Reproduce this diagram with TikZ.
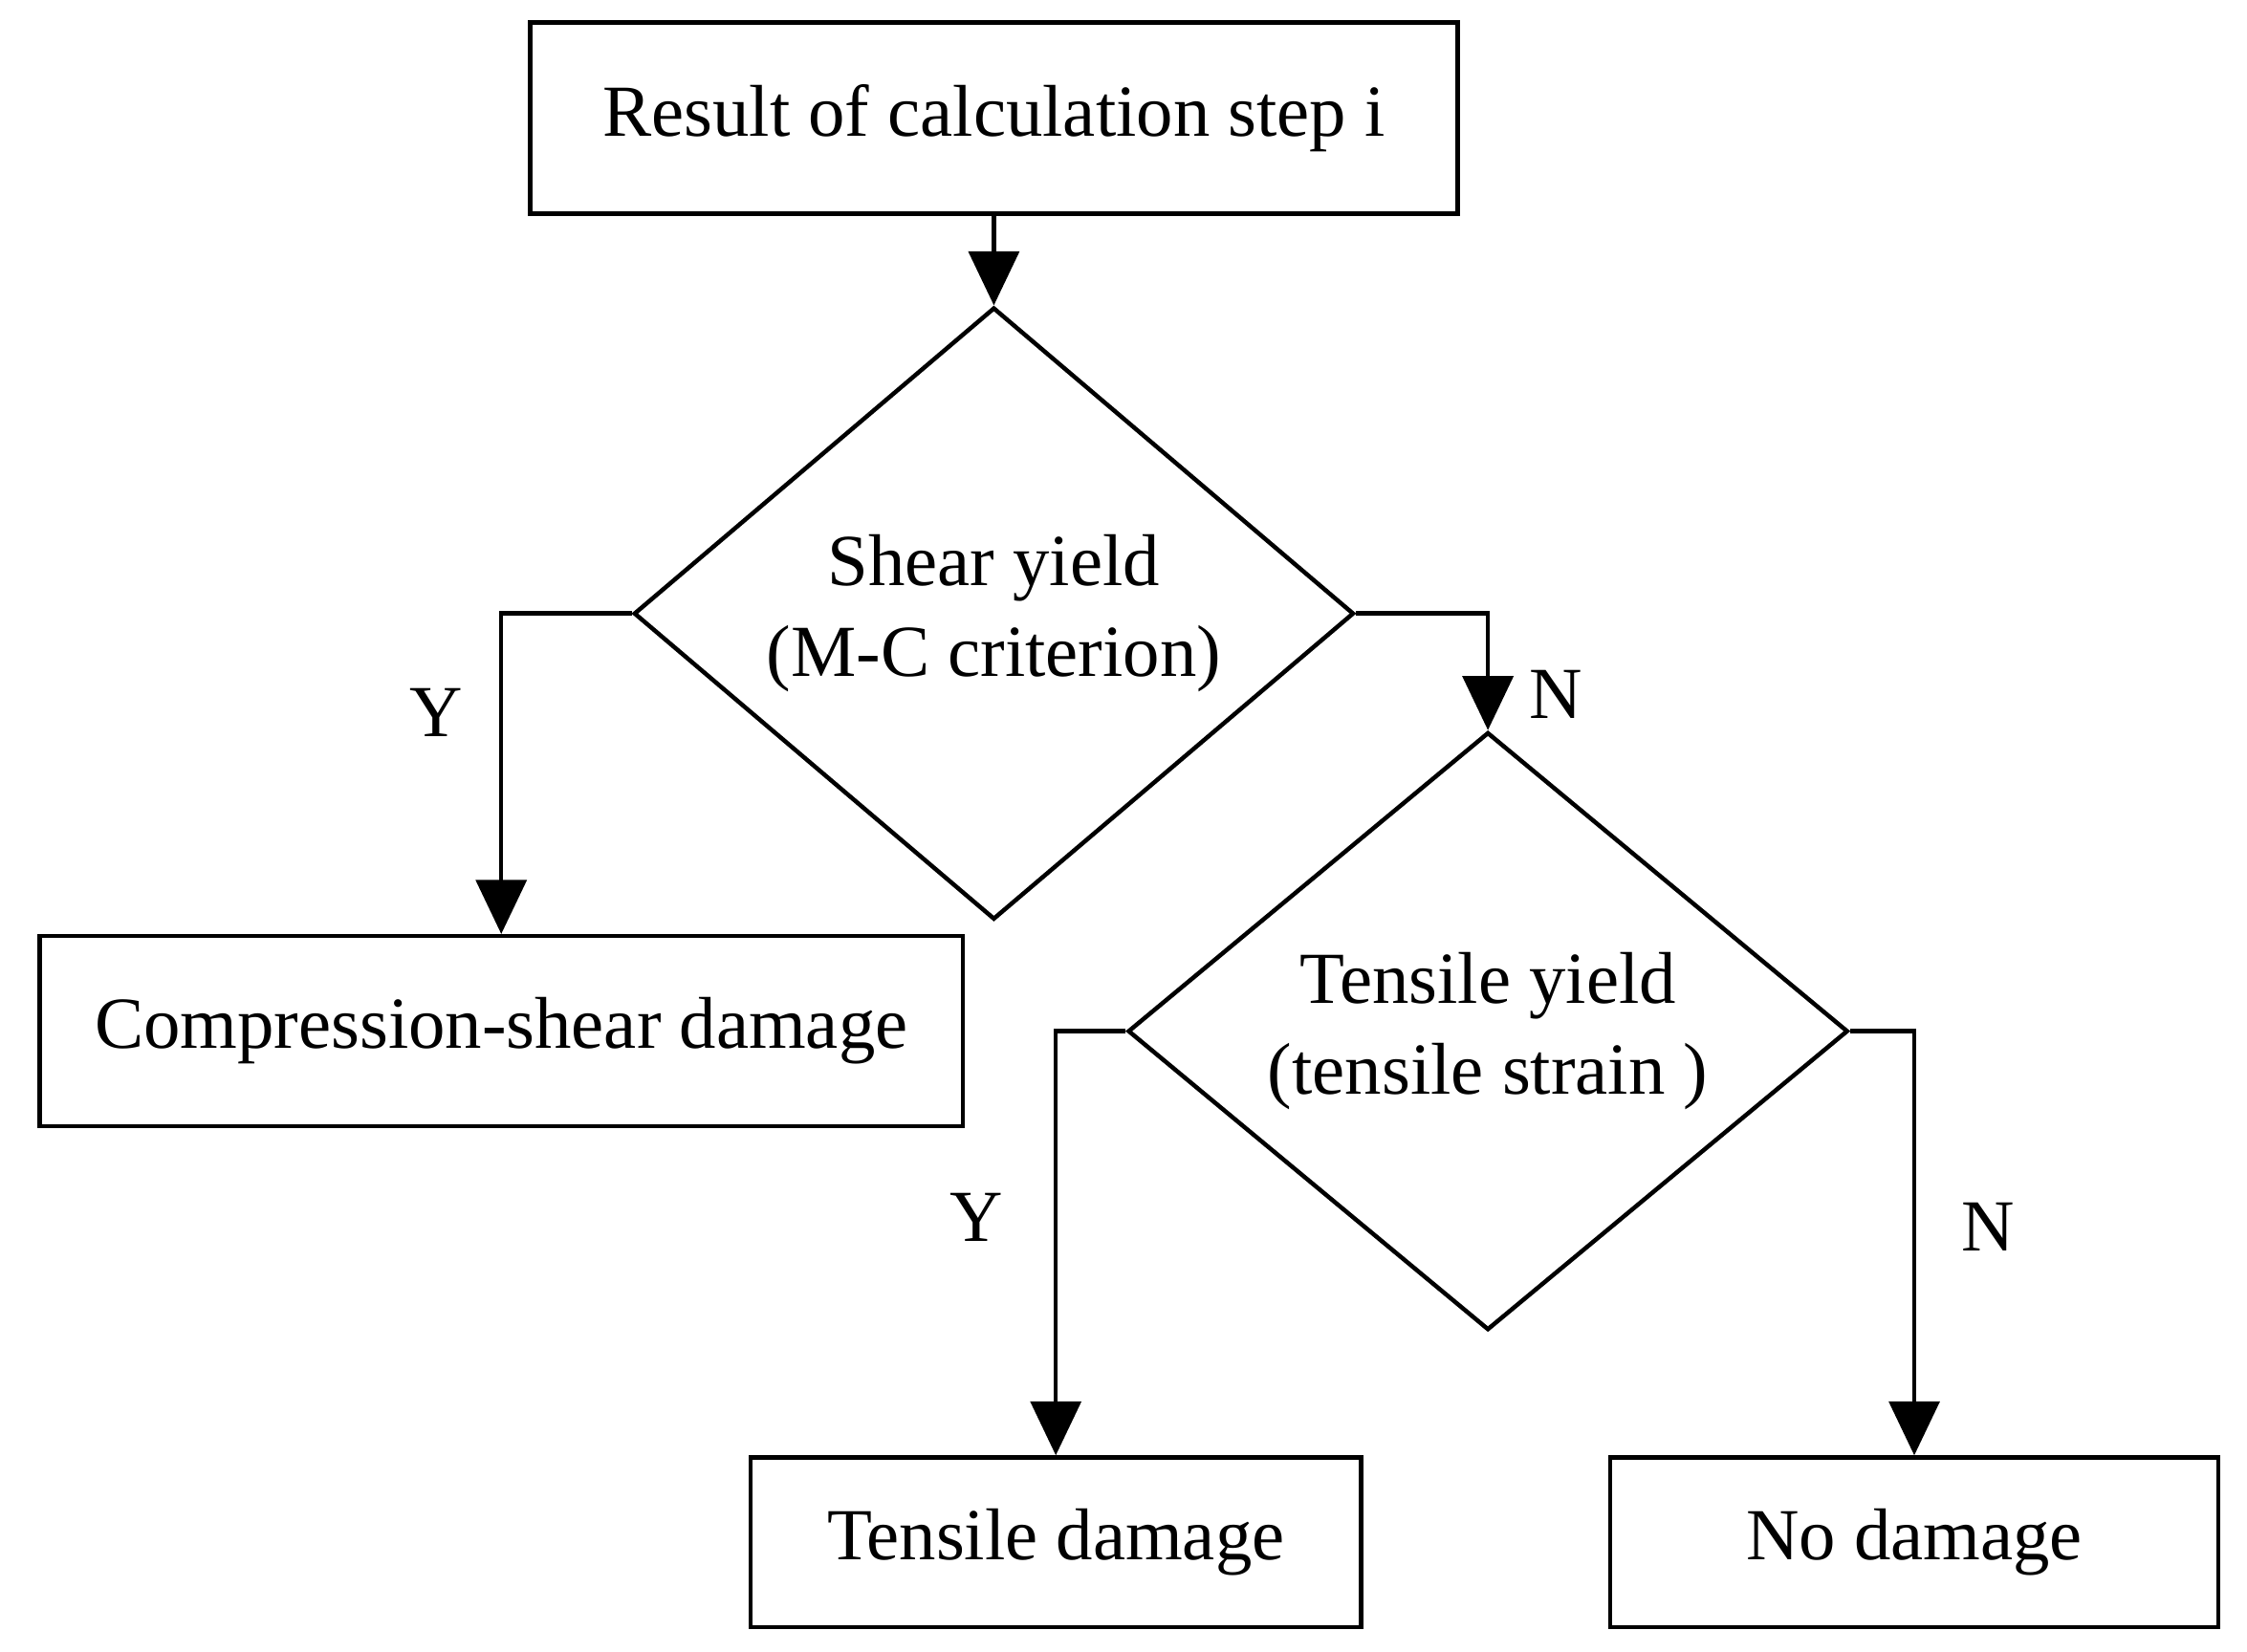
\documentclass[tikz,border=0pt]{standalone}
\usepackage{fontspec}
\setmainfont{Liberation Serif}
\usetikzlibrary{shapes.geometric,arrows.meta}
\begin{document}
\begin{tikzpicture}[x=0.02cm,y=-0.02cm,
  every node/.style={font=\fontsize{29}{36}\selectfont},
  box/.style={draw,line width=1.7pt,inner sep=0pt},
  dia/.style={draw,diamond,line width=1.7pt,inner sep=0pt,minimum width=10cm,minimum height=6.3cm,align=center},
  arr/.style={line width=1.7pt,-{Triangle[length=0.75cm,width=0.7cm]}},
  lab/.style={inner sep=0pt}]
\useasboundingbox[fill=white] (0,0) rectangle (1560,1147);
\node[box,minimum width=12.88cm,minimum height=2.66cm] (top) at (690,82) {Result of calculation step i};
\node[dia] (d1) at (690,426) {Shear yield\\(M-C criterion)};
\node[box,minimum width=12.82cm,minimum height=2.64cm] (cs) at (348,716) {Compression-shear damage};
\node[dia] (d2) at (1033,716) {Tensile yield\\(tensile strain )};
\node[box,minimum width=8.48cm,minimum height=2.36cm] (td) at (733,1071) {Tensile damage};
\node[box,minimum width=8.44cm,minimum height=2.36cm] (nd) at (1329,1071) {No damage};
\draw[arr] (top) -- (d1);
\draw[arr] (d1.west) -| (cs.north);
\draw[arr] (d1.east) -| (d2.north);
\draw[arr] (d2.west) -| (td.north);
\draw[arr] (d2.east) -| (nd.north);
\node[lab] (y1) at (303,495) {Y};
\node[lab] (n1) at (1080,482) {N};
\node[lab] (y2) at (678,845) {Y};
\node[lab] (n2) at (1380,852) {N};
\end{tikzpicture}
\end{document}
